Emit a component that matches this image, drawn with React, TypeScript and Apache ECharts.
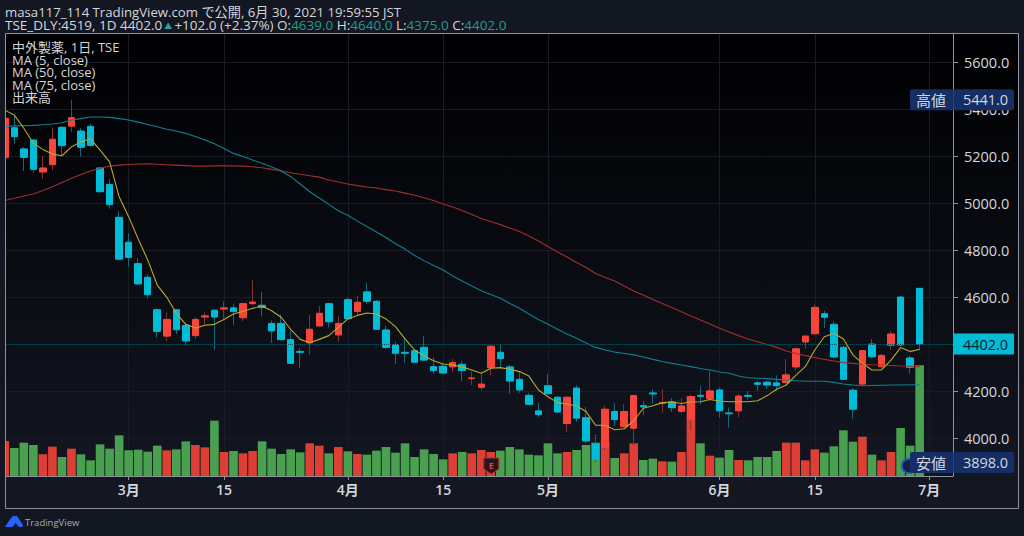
import React, { useEffect, useRef } from "react";
import * as echarts from "echarts";

const SLOT_COUNT = 100;
const categories: string[] = Array.from({ length: SLOT_COUNT }, (_, i) => String(i));
const tickIndex = [13, 23, 36, 46, 57, 75, 85, 97];
const tickLabels = ["3月", "15", "4月", "15", "5月", "6月", "15", "7月"];
const priceTicks = [4000, 4200, 4400, 4600, 4800, 5000, 5200, 5400, 5600];

const opens = [
  5195, 5322, 5232, 5270, 5134, 5165, 5324, 5329, 5308, 5328,
  5151, 5081, 4941, 4835, 4744, 4686, 4548, 4436, 4548, 4482,
  4438, 4517, 4546, 4551, 4556, 4514, 4574, 4567, 4490, 4490,
  4421, 4371, 4407, 4479, 4574, 4441, 4591, 4541, 4624, 4584,
  4462, 4399, 4367, 4374, 4388, 4306, 4308, 4305, 4316, 4255,
  4218, 4302, 4367, 4305, 4252, 4184, 4118, 4225, 4176, 4064,
  4215, 4089, 3977, 3963, 4115, 4051, 4044, 4140, 4194, 4150,
  4156, 4116, 4079, 4184, 4170, 4207, 4109, 4118, 4184, 4237,
  4240, 4237, 4238, 4305, 4411, 4446, 4531, 4486, 4388, 4206,
  4232, 4402, 4306, 4397, 4602, 4343, 4639,
];
const closes = [
  5362, 5284, 5196, 5145, 5151, 5273, 5246, 5365, 5239, 5247,
  5050, 4995, 4763, 4771, 4658, 4612, 4456, 4507, 4463, 4415,
  4507, 4522, 4517, 4556, 4540, 4574, 4581, 4557, 4458, 4421,
  4320, 4367, 4465, 4533, 4497, 4490, 4510, 4580, 4584, 4465,
  4388, 4363, 4363, 4325, 4334, 4289, 4279, 4323, 4289, 4258,
  4232, 4393, 4340, 4245, 4207, 4146, 4102, 4191, 4113, 4176,
  4087, 3990, 3912, 4125, 4081, 4115, 4183, 4135, 4190, 4153,
  4132, 4139, 4178, 4180, 4203, 4118, 4106, 4181, 4180, 4231,
  4228, 4225, 4271, 4382, 4436, 4558, 4516, 4347, 4252, 4125,
  4374, 4348, 4354, 4445, 4398, 4303, 4402,
];
const lows = [
  5185, 5253, 5138, 5131, 5105, 5142, 5206, 5304, 5199, 5244,
  5049, 4978, 4760, 4731, 4652, 4595, 4429, 4415, 4445, 4397,
  4425, 4483, 4378, 4507, 4483, 4500, 4567, 4520, 4407, 4419,
  4317, 4300, 4357, 4476, 4473, 4412, 4505, 4526, 4573, 4462,
  4381, 4317, 4323, 4324, 4332, 4275, 4274, 4282, 4244, 4228,
  4204, 4271, 4305, 4190, 4195, 4143, 4092, 4190, 4110, 4027,
  4072, 3980, 3898, 3952, 4054, 4044, 3973, 4099, 4150, 4110,
  4113, 4108, 4037, 4146, 4164, 4089, 4047, 4092, 4166, 4203,
  4211, 4204, 4235, 4289, 4382, 4445, 4470, 4342, 4249, 4085,
  4228, 4340, 4300, 4377, 4394, 4275, 4375,
];
const highs = [
  5372, 5376, 5240, 5274, 5202, 5324, 5329, 5441, 5321, 5338,
  5155, 5104, 4967, 4873, 4767, 4699, 4551, 4537, 4551, 4490,
  4516, 4537, 4550, 4585, 4573, 4578, 4673, 4624, 4503, 4527,
  4459, 4384, 4526, 4564, 4578, 4522, 4601, 4607, 4662, 4590,
  4480, 4412, 4427, 4377, 4436, 4346, 4323, 4340, 4331, 4285,
  4278, 4402, 4399, 4313, 4282, 4194, 4152, 4275, 4181, 4178,
  4227, 4135, 4017, 4139, 4150, 4146, 4186, 4161, 4211, 4210,
  4172, 4172, 4186, 4225, 4288, 4218, 4132, 4190, 4203, 4245,
  4245, 4269, 4339, 4387, 4438, 4571, 4544, 4497, 4394, 4214,
  4377, 4424, 4359, 4458, 4604, 4353, 4640,
];
const ma5 = [
  5397, 5376, 5320, 5256, 5230, 5210, 5203, 5241, 5262, 5275,
  5227, 5177, 5029, 4944, 4849, 4760, 4653, 4601, 4533, 4486,
  4470, 4482, 4486, 4507, 4530, 4541, 4554, 4564, 4544, 4516,
  4465, 4422, 4408, 4422, 4438, 4473, 4509, 4524, 4534, 4530,
  4509, 4476, 4424, 4377, 4351, 4331, 4317, 4313, 4305, 4292,
  4278, 4299, 4302, 4295, 4285, 4266, 4207, 4178, 4153, 4147,
  4139, 4115, 4057, 4057, 4038, 4042, 4076, 4129, 4140, 4153,
  4156, 4149, 4156, 4157, 4166, 4160, 4157, 4157, 4157, 4161,
  4183, 4210, 4228, 4269, 4306, 4377, 4433, 4448, 4424, 4356,
  4320, 4292, 4292, 4334, 4387, 4370, 4380,
];
const ma50 = [
  5328, 5330, 5331, 5332, 5335, 5338, 5343, 5355, 5361, 5368,
  5368, 5366, 5361, 5355, 5346, 5336, 5326, 5316, 5308, 5298,
  5285, 5270, 5254, 5234, 5213, 5200, 5185, 5171, 5155, 5139,
  5114, 5083, 5050, 5023, 4996, 4969, 4950, 4925, 4902, 4879,
  4855, 4829, 4806, 4779, 4757, 4736, 4717, 4692, 4670, 4649,
  4629, 4613, 4597, 4575, 4554, 4530, 4507, 4486, 4465, 4445,
  4427, 4407, 4388, 4377, 4368, 4362, 4356, 4347, 4337, 4328,
  4320, 4313, 4306, 4298, 4292, 4283, 4278, 4266, 4259, 4257,
  4255, 4252, 4249, 4246, 4244, 4244, 4244, 4239, 4232, 4228,
  4225, 4226, 4227, 4228, 4228, 4229, 4229,
];
const ma75 = [
  5013, 5022, 5032, 5040, 5055, 5071, 5089, 5107, 5123, 5138,
  5149, 5159, 5163, 5166, 5168, 5169, 5167, 5165, 5163, 5161,
  5159, 5159, 5160, 5160, 5160, 5159, 5156, 5152, 5145, 5138,
  5131, 5124, 5118, 5112, 5100, 5091, 5083, 5076, 5070, 5066,
  5059, 5053, 5044, 5035, 5024, 5013, 4998, 4985, 4970, 4953,
  4936, 4923, 4910, 4896, 4881, 4862, 4840, 4817, 4794, 4772,
  4749, 4728, 4702, 4685, 4670, 4649, 4628, 4611, 4592, 4575,
  4558, 4540, 4521, 4504, 4487, 4469, 4453, 4438, 4424, 4412,
  4400, 4388, 4373, 4362, 4353, 4345, 4337, 4330, 4323, 4320,
  4316, 4314, 4313, 4311, 4309, 4308, 4306,
];
const volumes = [
  105, 84, 100, 93, 65, 88, 57, 82, 65, 47,
  95, 82, 122, 77, 79, 73, 91, 77, 80, 104,
  93, 86, 166, 72, 75, 68, 75, 104, 82, 66,
  80, 71, 98, 91, 68, 87, 74, 66, 64, 76,
  87, 70, 98, 57, 80, 66, 50, 68, 72, 68,
  78, 72, 76, 87, 80, 64, 62, 98, 68, 72,
  78, 93, 100, 104, 54, 68, 98, 48, 52, 44,
  43, 72, 239, 98, 61, 55, 78, 48, 47, 57,
  57, 75, 100, 100, 47, 80, 70, 89, 137, 103,
  118, 64, 47, 72, 144, 91, 332,
];

const headerLine = "masa117_114 TradingView.com で公開, 6月 30, 2021 19:59:55 JST";
const legendLines = ["中外製薬, 1日, TSE", "MA (5, close)", "MA (50, close)", "MA (75, close)", "出来高"];
const lastClose = 4402;
const highValue = 5441;
const lowValue = 3898;

const UP = "#f8453b";
const DOWN = "#00bcd6";
const UP_WICK = "#85302c";
const DOWN_WICK = "#0d6c7a";
const VOL_UP = "#dd3f35";
const VOL_DOWN = "#49a04f";
const PANEL = "#131722";
const LINE = "#8f929b";
const TEXT = "#d3d6dd";
const GRID_LINE = "#191c26";
const FONT = "'Open Sans','Noto Sans CJK JP',sans-serif";

const GRID_LEFT = -0.27;
const AXIS_X = 953;
const GRID_TOP = 33;
const GRID_BOTTOM = 476;

echarts.graphic.registerShape(
  "tvLogo",
  echarts.graphic.extendPath("M0 11 L5.5 2.5 L8 0 L12 0 L18 9 L17 11 L14 11 L10.5 7 L7.5 11 Z", {})
);

export default function App() {
  const ref = useRef<HTMLDivElement>(null);

  useEffect(() => {
    if (!ref.current) return;
    const chart = echarts.init(ref.current, null, { renderer: "svg" });
    const plotW = AXIS_X - GRID_LEFT;
    const band = plotW / SLOT_COUNT;

    const candles = opens.map((o, i) => [o, closes[i], lows[i], highs[i]]);
    const bodies = opens.map((o, i) => [o, closes[i], Math.min(o, closes[i]), Math.max(o, closes[i])]);
    const volumeItems = volumes.map((v, i) => ({
      value: v,
      itemStyle: { color: closes[i] >= opens[i] ? VOL_UP : VOL_DOWN },
    }));

    chart.setOption({
      animation: false,
      backgroundColor: PANEL,
      grid: { left: GRID_LEFT, right: 1024 - AXIS_X, top: GRID_TOP, height: GRID_BOTTOM - GRID_TOP, containLabel: false },
      xAxis: {
        type: "category",
        data: categories,
        boundaryGap: true,
        axisLine: { show: true, lineStyle: { color: LINE, width: 1 } },
        axisTick: {
          show: true,
          alignWithLabel: true,
          length: 4,
          interval: (i: number) => tickIndex.includes(i),
          lineStyle: { color: LINE },
        },
        axisLabel: {
          interval: (i: number) => tickIndex.includes(i),
          formatter: (_: string, i: number) => tickLabels[tickIndex.indexOf(i)] ?? "",
          color: TEXT,
          fontFamily: FONT,
          fontSize: 14,
          fontWeight: 600,
          margin: 6,
        },
        splitLine: {
          show: true,
          alignWithLabel: true,
          interval: (i: number) => tickIndex.includes(i),
          lineStyle: { color: GRID_LINE, width: 1 },
        },
      },
      yAxis: [
        {
          type: "value",
          position: "right",
          min: 3841,
          max: 5725,
          scale: true,
          axisLine: { show: true, onZero: false, lineStyle: { color: LINE, width: 1 } },
          axisTick: { show: true, length: 5, customValues: priceTicks, lineStyle: { color: LINE } },
          axisLabel: {
            customValues: priceTicks,
            formatter: (v: number) => v.toFixed(1),
            color: TEXT,
            fontFamily: FONT,
            fontSize: 14.5,
            margin: 11,
          },
          splitLine: { show: true, lineStyle: { color: GRID_LINE, width: 1 } },
        },
        { type: "value", show: false, min: 0, max: 1329, splitLine: { show: false } },
      ],
      series: [
        {
          name: "出来高",
          type: "bar",
          yAxisIndex: 1,
          data: volumeItems,
          barWidth: band - 0.9,
          z: 1,
        },
        {
          name: "wicks",
          type: "candlestick",
          data: candles,
          barWidth: 3,
          itemStyle: {
            color: UP_WICK,
            color0: DOWN_WICK,
            borderColor: UP_WICK,
            borderColor0: DOWN_WICK,
            borderWidth: 1,
          },
          z: 2,
          markLine: {
            silent: true,
            symbol: "none",
            label: { show: false },
            lineStyle: { color: "#0c4f5a", type: "dotted", width: 1 },
            data: [{ yAxis: lastClose }],
          },
        },
        {
          name: "中外製薬",
          type: "candlestick",
          data: bodies,
          barWidth: 7,
          itemStyle: {
            color: UP,
            color0: DOWN,
            borderColor: UP,
            borderColor0: DOWN,
            borderWidth: 1,
          },
          z: 3,
        },
        {
          name: "MA (75, close)",
          type: "line",
          data: ma75,
          showSymbol: false,
          lineStyle: { color: "#a02f2a", width: 1.1 },
          z: 4,
        },
        {
          name: "MA (50, close)",
          type: "line",
          data: ma50,
          showSymbol: false,
          lineStyle: { color: "#0e8191", width: 1.1 },
          z: 4,
        },
        {
          name: "MA (5, close)",
          type: "line",
          data: ma5,
          showSymbol: false,
          lineStyle: { color: "#bda72e", width: 1.1 },
          z: 5,
        },
      ],
    });

    const yOf = (v: number) => chart.convertToPixel({ yAxisIndex: 0 }, v) as number;
    const xOf = (i: number) => chart.convertToPixel({ xAxisIndex: 0 }, String(i)) as number;

    const plainText = (text: string, x: number, y: number, extra: any = {}) => ({
      type: "text",
      x,
      y,
      z: 60,
      silent: true,
      style: {
        text,
        fill: TEXT,
        font: `13px ${FONT}`,
        textVerticalAlign: "middle",
        textBaseline: "middle",
        ...extra,
      },
    });

    const extremeTag = (label: string, value: number) => {
      const y = yOf(value);
      return {
        type: "group",
        z: 55,
        children: [
          {
            type: "rect",
            z: 55,
            shape: { x: 910, y: y - 10.5, width: 104, height: 21, r: 2 },
            style: { fill: "#152e66" },
          },
          {
            type: "line",
            z: 56,
            shape: { x1: AXIS_X + 0.5, y1: y - 10.5, x2: AXIS_X + 0.5, y2: y + 10.5 },
            style: { stroke: "#2d4478", lineWidth: 1 },
          },
          plainText(label, 931, y, { font: `15px ${FONT}`, textAlign: "center", align: "center" }),
          plainText(value.toFixed(1), 985.5, y, { font: `14.5px ${FONT}`, textAlign: "center", align: "center" }),
        ],
      };
    };

    const lastY = yOf(lastClose);

    chart.setOption({
      graphic: [
        {
          type: "rect",
          z: -10,
          silent: true,
          shape: { x: 5, y: GRID_TOP, width: 1013.5, height: 475 },
          style: {
            fill: new echarts.graphic.LinearGradient(0, 0, 0, 1, [
              { offset: 0, color: "#000002" },
              { offset: 1, color: "#141823" },
            ]),
          },
        },
        // covers the half of the first candle that lies left of the frame
        {
          type: "rect",
          z: 40,
          silent: true,
          shape: { x: 0, y: GRID_TOP, width: 5, height: 480 },
          style: { fill: PANEL },
        },
        {
          type: "rect",
          z: 41,
          silent: true,
          shape: { x: 5.5, y: GRID_TOP + 0.5, width: 1013, height: 475 },
          style: { fill: "none", stroke: LINE, lineWidth: 1 },
        },
        plainText(headerLine, 5, 12, { font: `13.2px ${FONT}` }),
        {
          type: "text",
          x: 5,
          y: 25,
          z: 60,
          silent: true,
          style: {
            rich: {
              a: { fill: TEXT, font: `13.5px ${FONT}` },
              t: { fill: "#1f9c8d", font: `13.5px ${FONT}` },
              s: { fill: "#26a69a", font: `8px ${FONT}` },
            },
            text:
              "{a|TSE_DLY:4519, 1D 4402.0}{s| ▲ }{a|+102.0 (+2.37%) O:}{t|4639.0}{a| H:}{t|4640.0}{a| L:}{t|4375.0}{a| C:}{t|4402.0}",
            textVerticalAlign: "middle",
          },
        },
        ...legendLines.map((t, i) => plainText(t, 12, 47 + i * 12.6, { font: `13px ${FONT}` })),
        // last price tag
        {
          type: "rect",
          z: 55,
          shape: { x: AXIS_X, y: lastY - 10.5, width: 61, height: 21, r: 1 },
          style: { fill: DOWN },
        },
        plainText(lastClose.toFixed(1), 985.5, lastY, {
          fill: "#10212c",
          font: `14.5px ${FONT}`,
          textAlign: "center",
          align: "center",
        }),
        // earnings marker
        {
          type: "polygon",
          z: 20,
          shape: {
            points: [
              [xOf(51) - 7, 458],
              [xOf(51) + 8, 458],
              [xOf(51) + 8, 469],
              [xOf(51) + 0.5, 474],
              [xOf(51) - 7, 469],
            ],
          },
          style: { fill: "#2a1420", stroke: "#a8322c", lineWidth: 1 },
        },
        plainText("E", xOf(51) + 0.5, 465.5, { fill: "#d8463c", font: `bold 9px ${FONT}`, textAlign: "center", align: "center" }),
        // dividend marker under the low tag
        {
          type: "circle",
          z: 50,
          shape: { cx: 909, cy: 466, r: 7 },
          style: { fill: "#131f3c", stroke: "#2251c7", lineWidth: 2 },
        },
        { type: "tvLogo", x: 5, y: 516, z: 60, style: { fill: "#2962ff" } },
        plainText("TradingView", 25, 522, { fill: "#a9adb8", font: `9.5px ${FONT}` }),
        extremeTag("高値", highValue),
        extremeTag("安値", lowValue),
      ],
    });

    return () => chart.dispose();
  }, []);

  return <div ref={ref} style={{ position: "absolute", left: 0, top: 0, width: 1024, height: 536 }} />;
}
